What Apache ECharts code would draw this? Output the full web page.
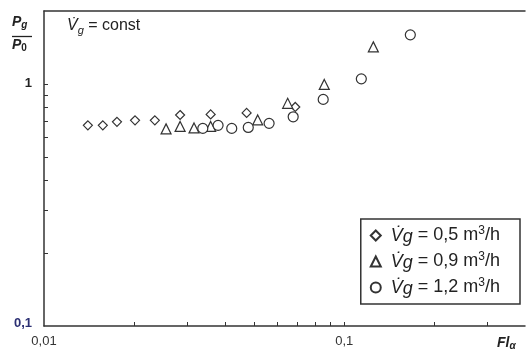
<!DOCTYPE html>
<html>
<head>
<meta charset="utf-8">
<script src="https://cdn.jsdelivr.net/npm/echarts@6/dist/echarts.min.js"></script>
<style>
  html, body { margin: 0; padding: 0; background: #fff; }
  #chart { width: 528px; height: 356px; }
</style>
</head>
<body>
<div id="chart"></div>
<script>
// values (Fl_alpha, Pg/P0)
const seriesNames = ['0,5', '0,9', '1,2']
const seriesSymbols = ['diamond', 'triangle', 'circle']

const flow05Fl = [0.0140, 0.0157, 0.0175, 0.0201, 0.0234, 0.0284, 0.0359, 0.0473, 0.0687]
const flow05Ratio = [0.674, 0.674, 0.697, 0.707, 0.707, 0.744, 0.748, 0.759, 0.803]

const flow09Fl = [0.0255, 0.0284, 0.0316, 0.0359, 0.0515, 0.0648, 0.0858, 0.125]
const flow09Ratio = [0.652, 0.667, 0.658, 0.667, 0.710, 0.831, 0.995, 1.422]

const flow12Fl = [0.0338, 0.0380, 0.0422, 0.0479, 0.0562, 0.0676, 0.0851, 0.114, 0.166]
const flow12Ratio = [0.655, 0.674, 0.655, 0.661, 0.687, 0.731, 0.863, 1.049, 1.594]

const xTicks = [0.02, 0.03, 0.04, 0.05, 0.06, 0.07, 0.08, 0.09, 0.1, 0.2, 0.3]
const xLabels = [0.01, 0.1]
const yTicks = [0.2, 0.3, 0.4, 0.5, 0.6, 0.7, 0.8, 0.9, 1]
const yLabels = [0.1, 1]

const font = 'Liberation Sans, Arial, sans-serif'
const ink = '#333'

const zip = (xs, ys) => xs.map((x, i) => [x, ys[i]])
const seriesData = [
    zip(flow05Fl, flow05Ratio),
    zip(flow09Fl, flow09Ratio),
    zip(flow12Fl, flow12Ratio)
]
const comma = v => String(+(+v).toPrecision(3)).replace('.', ',')

const chart = echarts.init(document.getElementById('chart'), null, { renderer: 'canvas' })

const option = {
    animation: false,
    grid: { left: 44, right: 3, top: 11, bottom: 30 },
    legend: {
        orient: 'vertical',
        right: 8,
        top: 219,
        borderColor: ink,
        borderWidth: 1.5,
        padding: [6, 20, 6, 9],
        itemWidth: 10,
        itemHeight: 10,
        itemGap: 5,
        formatter: name => `{v|V\u0307}{g|g}{t| = ${name} m}{s|3}{t|/h}`,
        textStyle: {
            fontFamily: font,
            fontSize: 18,
            color: '#222',
            rich: {
                v: { fontFamily: font, fontSize: 18, fontStyle: 'italic', color: '#222', padding: [0, 0, 0, 5], lineHeight: 21 },
                g: { fontFamily: font, fontSize: 18, fontStyle: 'italic', color: '#222', verticalAlign: 'bottom', lineHeight: 13 },
                t: { fontFamily: font, fontSize: 18, color: '#222', lineHeight: 21 },
                s: { fontFamily: font, fontSize: 12, color: '#222', verticalAlign: 'top', lineHeight: 11 }
            }
        },
        data: seriesNames
    },
    xAxis: [{
        type: 'log',
        logBase: 10,
        min: 0.01,
        max: 0.4,
        axisLine: { onZero: false, lineStyle: { color: ink, width: 1.5 } },
        axisTick: { inside: true, length: 4, customValues: xTicks, lineStyle: { color: ink, width: 1 } },
        axisLabel: { customValues: xLabels, formatter: comma, margin: 9, color: ink, fontSize: 13, fontFamily: font },
        splitLine: { show: false },
        minorTick: { show: false }
    }, {
        type: 'value',
        position: 'top',
        axisLine: { show: true, onZero: false, lineStyle: { color: ink, width: 1.5 } },
        axisTick: { show: false },
        axisLabel: { show: false },
        splitLine: { show: false }
    }],
    yAxis: {
        type: 'log',
        logBase: 10,
        min: 0.1,
        max: 2,
        axisLine: { show: true, onZero: false, lineStyle: { color: ink, width: 1.5 } },
        axisTick: { show: true, inside: true, length: 4, customValues: yTicks, lineStyle: { color: ink, width: 1 } },
        axisLabel: {
            customValues: yLabels,
            margin: 12,
            formatter: v => (v < 0.5 ? '{n|' + comma(v) + '}' : '{k|' + comma(v) + '}'),
            rich: {
                n: { color: '#2c3073', fontWeight: 'bold', fontSize: 13, fontFamily: font, padding: [0, 0, 6, 0] },
                k: { color: '#222', fontWeight: 'bold', fontSize: 13, fontFamily: font }
            }
        },
        splitLine: { show: false }
    },
    series: seriesNames.map((name, i) => ({
        name,
        type: 'scatter',
        xAxisIndex: 0,
        symbol: seriesSymbols[i],
        symbolSize: i === 0 ? 9 : 10,
        itemStyle: { color: '#fff', borderColor: ink, borderWidth: 1.2, opacity: 1 },
        emphasis: { disabled: true },
        data: seriesData[i]
    })),
    graphic: [
        {
            type: 'text', left: 67, top: 18,
            style: {
                text: '{v|V\u0307}{g|g}{t| = const}',
                rich: {
                    v: { fontFamily: font, fontSize: 16, fontStyle: 'italic', fill: '#222', lineHeight: 21 },
                    g: { fontFamily: font, fontSize: 11, fontStyle: 'italic', fill: '#222', verticalAlign: 'bottom', lineHeight: 10 },
                    t: { fontFamily: font, fontSize: 16, fill: '#222', lineHeight: 21 }
                }
            }
        },
        {
            type: 'text', left: 12, top: 15,
            style: {
                text: '{p|P}{s|g}',
                rich: {
                    p: { fontFamily: font, fontSize: 14, fontStyle: 'italic', fontWeight: 'bold', fill: '#222', lineHeight: 16 },
                    s: { fontFamily: font, fontSize: 10, fontStyle: 'italic', fontWeight: 'bold', fill: '#222', verticalAlign: 'bottom', lineHeight: 8 }
                }
            }
        },
        {
            type: 'line', shape: { x1: 12, y1: 36.5, x2: 32, y2: 36.5 },
            style: { stroke: '#222', lineWidth: 1.3 }
        },
        {
            type: 'text', left: 12, top: 38,
            style: {
                text: '{p|P}{s|0}',
                rich: {
                    p: { fontFamily: font, fontSize: 14, fontStyle: 'italic', fontWeight: 'bold', fill: '#222', lineHeight: 16 },
                    s: { fontFamily: font, fontSize: 10, fontWeight: 'bold', fill: '#222', verticalAlign: 'bottom', lineHeight: 8 }
                }
            }
        },
        {
            type: 'text', left: 497, top: 336,
            style: {
                text: '{p|Fl}{s|\u03b1}',
                rich: {
                    p: { fontFamily: font, fontSize: 14, fontStyle: 'italic', fontWeight: 'bold', fill: '#222', lineHeight: 16 },
                    s: { fontFamily: font, fontSize: 10, fontStyle: 'italic', fontWeight: 'bold', fill: '#222', verticalAlign: 'bottom', lineHeight: 8 }
                }
            }
        }
    ]
}

chart.setOption(option)
</script>
</body>
</html>
